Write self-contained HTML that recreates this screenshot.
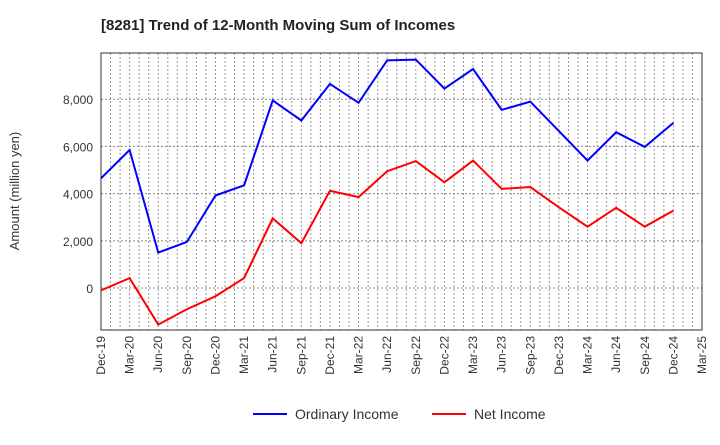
<!DOCTYPE html>
<html><head><meta charset="utf-8"><style>
body{margin:0;background:#fff;font-family:"Liberation Sans",sans-serif}
</style></head><body>
<svg width="720" height="440" viewBox="0 0 720 440">
<text x="101" y="30" font-size="15" font-weight="bold" fill="#222">[8281]  Trend of 12-Month Moving Sum of Incomes</text>
<g id="grid"></g><g id="axes"></g><g id="series"></g>
<text transform="translate(19,191) rotate(-90)" text-anchor="middle" font-size="13" fill="#333">Amount (million yen)</text>
<g>
<line x1="253" y1="414" x2="287" y2="414" stroke="#0000ff" stroke-width="2"/>
<text x="295" y="419" font-size="14" fill="#333">Ordinary Income</text>
<line x1="432" y1="414" x2="466" y2="414" stroke="#ff0000" stroke-width="2"/>
<text x="474" y="419" font-size="14" fill="#333">Net Income</text>
</g>
</svg>
<script>
const xLabels=["Dec-19","Mar-20","Jun-20","Sep-20","Dec-20","Mar-21","Jun-21","Sep-21","Dec-21","Mar-22","Jun-22","Sep-22","Dec-22","Mar-23","Jun-23","Sep-23","Dec-23","Mar-24","Jun-24","Sep-24","Dec-24","Mar-25"];
const yTicks=[0,2000,4000,6000,8000];
const ordinaryIncome=[4650,5850,1500,1950,3920,4350,7950,7100,8650,7850,9650,9680,8450,9280,7550,7900,6650,5400,6600,5980,7000];
const netIncome=[-100,420,-1550,-900,-350,420,2950,1900,4120,3850,4950,5380,4480,5400,4200,4280,3420,2600,3400,2600,3280];
const L=101,R=702,T=53,B=330,yMin=-1780,yMax=9960;
const ns="http://www.w3.org/2000/svg";
const X=i=>L+(R-L)*i/(xLabels.length-1);
const Y=v=>B-(v-yMin)/(yMax-yMin)*(B-T);
function mk(t,a,p){const e=document.createElementNS(ns,t);for(const k in a)e.setAttribute(k,a[k]);p.appendChild(e);return e;}
const g=document.getElementById('grid'),ax=document.getElementById('axes'),s=document.getElementById('series');
const nM=(xLabels.length-1)*3;
for(let m=1;m<nM;m++){const x=L+(R-L)*m/nM;
const l=mk('line',{x1:x,x2:x,y1:T,y2:B,stroke:'#999','stroke-dasharray':'2,2','stroke-width':1},g);

}
yTicks.forEach(v=>{const y=Y(v);
const l=mk('line',{x1:L,x2:R,y1:y,y2:y,stroke:'#888','stroke-dasharray':'2,2'},g);


const t=mk('text',{x:L-8,y:y+5,'text-anchor':'end','font-size':12,fill:'#333'},ax);t.textContent=v.toLocaleString('en-US');

});
const fr=mk('rect',{x:L,y:T,width:R-L,height:B-T,fill:'none',stroke:'#333'},ax);


xLabels.forEach((lb,i)=>{const x=X(i);
const t=mk('text',{transform:`translate(${x+4},${B+6}) rotate(-90)`,'text-anchor':'end','font-size':12,fill:'#333'},ax);t.textContent=lb;

});
function line(d,c,n){const p=mk('polyline',{points:d.map((v,i)=>X(i)+','+Y(v)).join(' '),fill:'none',stroke:c,'stroke-width':2},s);

}
line(ordinaryIncome,'#0000ff','ordinary-income-line');
line(netIncome,'#ff0000','net-income-line');
</script>
</body></html>
